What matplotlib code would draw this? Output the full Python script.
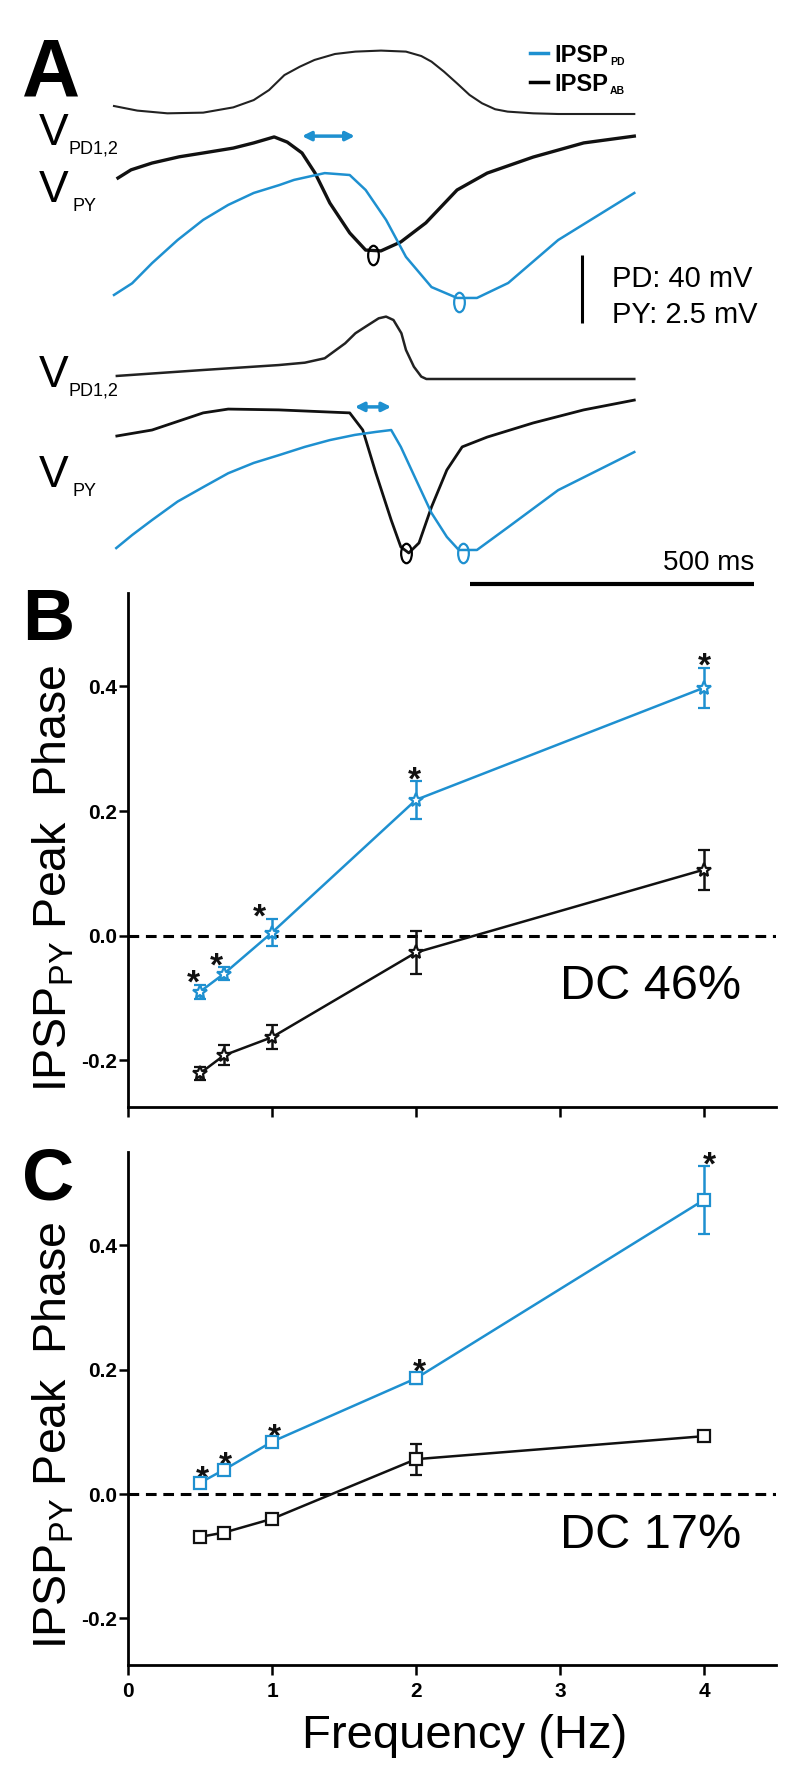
import matplotlib
matplotlib.use('Agg')
import matplotlib.pyplot as plt
from matplotlib.markers import MarkerStyle
from matplotlib.transforms import Affine2D
from matplotlib.lines import Line2D

plt.rcParams['font.family'] = ['Liberation Sans', 'DejaVu Sans']
plt.rcParams['mathtext.fontset'] = 'custom'
plt.rcParams['mathtext.rm'] = 'Liberation Sans'
plt.rcParams['mathtext.it'] = 'Liberation Sans:italic'
plt.rcParams['mathtext.bf'] = 'Liberation Sans:bold'

BLUE = '#1E90D0'
W, H = 792, 1784

# ---------------- data: panels B / C ----------------
freq = [0.5, 0.667, 1, 2, 4]
b_pd = [-0.090, -0.061, 0.005, 0.218, 0.398]
b_pd_err = [0.011, 0.010, 0.022, 0.030, 0.032]
b_ab = [-0.221, -0.192, -0.163, -0.027, 0.106]
b_ab_err = [0.010, 0.016, 0.019, 0.035, 0.032]
c_pd = [0.018, 0.039, 0.084, 0.186, 0.473]
c_pd_err = [0.006, 0.006, 0.006, 0.009, 0.055]
c_ab = [-0.069, -0.062, -0.040, 0.056, 0.093]
c_ab_err = [0.004, 0.005, 0.005, 0.025, 0.005]
b_sig = [True, True, True, True, True]
c_sig = [True, True, True, True, True]
yticks = [-0.2, 0.0, 0.2, 0.4]
ytick_labels = ['-0.2', '0.0', '0.2', '0.4']
xticks = [0, 1, 2, 3, 4]
xtick_labels = ['0', '1', '2', '3', '4']
b_note = 'DC 46%'
c_note = 'DC 17%'

# ---------------- data: panel A traces (time ms, mV) ----------------
pd1_t = [0, 41, 94, 157, 210, 246, 273, 300, 327, 353, 389, 425, 470, 514, 541, 559, 581,
         604, 626, 648, 671, 693, 738, 782, 916]
pd1_v = [4.7, 2.0, 0.4, 0.8, 3.9, 8.2, 14.1, 22.9, 27.8, 31.8, 35.3, 36.7, 37.3, 36.7, 34.1,
         30.8, 24.9, 18.0, 11.2, 6.3, 2.8, 1.4, 0.4, 0.0, 0.0]
py1_ab_t = [7, 30, 67, 115, 157, 210, 246, 282, 305, 331, 354, 380, 415, 443, 470, 505, 549,
            604, 657, 738, 827, 916]
py1_ab_v = [0.0, 0.3, 0.55, 0.78, 0.92, 1.1, 1.29, 1.51, 1.32, 0.92, 0.18, -0.92, -2.02, -2.65,
            -2.68, -2.35, -1.65, -0.44, 0.18, 0.77, 1.29, 1.54]
py1_pd_t = [0, 32, 67, 112, 157, 201, 246, 291, 317, 371, 415, 443, 479, 514, 559, 604, 639,
            694, 782, 916]
py1_pd_v = [-4.30, -3.87, -3.13, -2.28, -1.54, -0.99, -0.55, -0.26, -0.07, 0.18, 0.11, -0.44,
            -1.54, -2.90, -4.01, -4.41, -4.41, -3.86, -2.28, -0.55]
pd2_t = [5, 157, 290, 336, 371, 407, 425, 443, 466, 479, 492, 506, 514, 528, 541, 550, 916]
pd2_v = [1.8, 5.3, 8.2, 9.6, 12.2, 21.0, 26.9, 30.8, 35.7, 36.7, 34.7, 26.9, 17.1, 7.2, 1.4,
         0.0, 0.0]
py2_ab_t = [5, 67, 157, 201, 290, 380, 415, 438, 461, 488, 505, 519, 537, 559, 586, 613, 657,
            738, 827, 916]
py2_ab_v = [0.0, 0.22, 0.85, 0.99, 0.96, 0.88, 0.85, 0.22, -1.36, -3.09, -4.08, -4.30, -3.93,
            -2.61, -1.25, -0.40, -0.04, 0.48, 0.96, 1.32]
py2_pd_t = [4, 32, 67, 112, 157, 201, 246, 291, 336, 380, 424, 461, 488, 505, 532, 559, 586,
            607, 639, 694, 782, 916]
py2_pd_v = [-4.12, -3.64, -3.09, -2.41, -1.88, -1.37, -0.99, -0.70, -0.40, -0.15, 0.04, 0.15,
            0.22, -0.40, -1.62, -2.83, -3.71, -4.19, -4.19, -3.35, -1.99, -0.59]
# trough markers (ms, mV)
trough1_ab = (456, -2.83)
trough1_pd = (607, -4.56)
trough2_ab = (514, -4.30)
trough2_pd = (614, -4.30)
# phase-shift arrows (ms start, ms end, mV level)
arrow1 = (331, 424, 1.54)
arrow2 = (424, 488, 1.07)
scale_time_ms = 500
scale_py_mv = 2.5
scale_pd_mv = 40

# ---------------- layout helpers ----------------
def fx(px):
    return px / W

def fy(py):
    return 1 - py / H

fig = plt.figure(figsize=(W / 100, H / 100), dpi=100)
fig.patch.set_facecolor('white')

# ---------------- panel A ----------------
PX_PER_MS = 0.568
PX_PER_MV = 27.2
T0_PX = 114
A_BOTTOM_PX = 600
axA = fig.add_axes([0, fy(A_BOTTOM_PX), 1, A_BOTTOM_PX / H])
axA.set_xlim(-T0_PX / PX_PER_MS, (W - T0_PX) / PX_PER_MS)
axA.set_ylim(0, A_BOTTOM_PX / PX_PER_MV)
axA.axis('off')

def row(px):
    return (A_BOTTOM_PX - px) / PX_PER_MV

off_pd1, off_py1, off_pd2, off_py2 = row(114), row(178), row(379), row(436)
pd_k = scale_py_mv / scale_pd_mv

axA.plot(pd1_t, [off_pd1 + v * pd_k for v in pd1_v], color='#222222', lw=1.5)
axA.plot(py1_ab_t, [off_py1 + v for v in py1_ab_v], color='#111111', lw=2.4)
axA.plot(py1_pd_t, [off_py1 + v for v in py1_pd_v], color=BLUE, lw=1.8)
axA.plot(pd2_t, [off_pd2 + v * pd_k for v in pd2_v], color='#222222', lw=1.8)
axA.plot(py2_ab_t, [off_py2 + v for v in py2_ab_v], color='#111111', lw=2.0)
axA.plot(py2_pd_t, [off_py2 + v for v in py2_pd_v], color=BLUE, lw=1.8)

ell = MarkerStyle('o', transform=Affine2D().scale(0.55, 1.0))
for (t, v), off, c in [(trough1_ab, off_py1, 'k'), (trough1_pd, off_py1, BLUE),
                       (trough2_ab, off_py2, 'k'), (trough2_pd, off_py2, BLUE)]:
    axA.plot([t], [off + v], marker=ell, ms=14, mfc='none', mec=c, mew=1.6, ls='none')

for (t1, t2, v), off in [(arrow1, off_py1), (arrow2, off_py2)]:
    axA.annotate('', xy=(t2, off + v), xytext=(t1, off + v),
                 arrowprops=dict(arrowstyle='<|-|>', color=BLUE, lw=2.5,
                                 mutation_scale=13, shrinkA=0, shrinkB=0))

# scale bars
sb_t = (582 - T0_PX) / PX_PER_MS
sb_v0 = row(323)
axA.plot([sb_t, sb_t], [sb_v0, sb_v0 + scale_py_mv], color='k', lw=2.2, solid_capstyle='butt')
tb_end = (754 - T0_PX) / PX_PER_MS
tb_v = row(584)
axA.plot([tb_end - scale_time_ms, tb_end], [tb_v, tb_v], color='k', lw=3, solid_capstyle='butt')
axA.text(tb_end, row(570), '%d ms' % scale_time_ms, fontsize=20, ha='right', va='baseline')
fig.text(fx(612), fy(287), 'PD: %d mV' % scale_pd_mv, fontsize=21, va='baseline')
fig.text(fx(612), fy(323), 'PY: %.1f mV' % scale_py_mv, fontsize=21, va='baseline')

# legend
for ypx, c, sub in [(53, BLUE, 'PD'), (82, 'k', 'AB')]:
    fig.add_artist(Line2D([fx(530), fx(548)], [fy(ypx), fy(ypx)], transform=fig.transFigure,
                          color=c, lw=2.5))
    fig.text(fx(554), fy(ypx + 9), 'IPSP', fontsize=17, weight='bold', va='baseline')
    fig.text(fx(610), fy(ypx + 12), sub, fontsize=7.5, weight='bold', va='baseline')

# trace labels
for base, sub, subx in [(145, 'PD1,2', 68), (202, 'PY', 72), (387, 'PD1,2', 68), (487, 'PY', 72)]:
    fig.text(fx(39), fy(base), 'V', fontsize=32, va='baseline')
    fig.text(fx(subx), fy(base + 9), sub, fontsize=13, va='baseline')

# panel letters
fig.text(fx(22), fy(95), 'A', fontsize=58, weight='bold', va='baseline')
fig.text(fx(22), fy(640), 'B', fontsize=52, weight='bold', va='baseline')
fig.text(fx(22), fy(1200), 'C', fontsize=52, weight='bold', va='baseline')

# ---------------- panels B and C ----------------
tickfont = dict(family=['Liberation Sans Narrow', 'Liberation Sans'], weight='bold', size=15)

def panel(top_px, bot_px, pd, pd_err, ab, ab_err, marker, msize, sig, ast_dx, ast_dy,
          note, note_base_px, show_xlabels):
    ax = fig.add_axes([fx(128), fy(bot_px), fx(776) - fx(128), (bot_px - top_px) / H])
    ax.set_xlim(0, 4.5)
    ax.set_ylim(-0.275, 0.55)
    for s in ['top', 'right']:
        ax.spines[s].set_visible(False)
    for s in ['left', 'bottom']:
        ax.spines[s].set_linewidth(2)
    ax.axhline(0, color='k', lw=2.2, ls=(0, (3.5, 2.2)), zorder=1)
    ax.errorbar(freq, ab, yerr=ab_err, color='#111111', lw=1.8, elinewidth=1.8, capsize=4,
                capthick=1.8, marker=marker, ms=msize, mfc='white', mec='#111111', mew=1.6,
                zorder=3)
    ax.errorbar(freq, pd, yerr=pd_err, color=BLUE, lw=1.8, elinewidth=1.8, capsize=4,
                capthick=1.8, marker=marker, ms=msize, mfc='white', mec=BLUE, mew=1.6, zorder=4)
    for f, v, e, s, dx in zip(freq, pd, pd_err, sig, ast_dx):
        if s:
            ax.annotate('*', xy=(f, v + e), xytext=(dx, ast_dy), textcoords='offset pixels',
                        ha='center', va='baseline', fontsize=24, weight='bold', color='#111111')
    ax.set_yticks(yticks)
    ax.set_yticklabels(ytick_labels, fontdict=tickfont)
    ax.set_xticks(xticks)
    if show_xlabels:
        ax.set_xticklabels(xtick_labels, fontdict=tickfont)
    else:
        ax.set_xticklabels([])
    ax.tick_params(axis='y', length=6.5, width=1.8, pad=1.5)
    ax.tick_params(axis='x', length=7, width=1.8, pad=5)
    fig.text(fx(741), fy(note_base_px), note, fontsize=35, ha='right', va='baseline')
    return ax

axB = panel(593, 1107, b_pd, b_pd_err, b_ab, b_ab_err, '*', 10, b_sig,
            [-7, -8, -13, -2, 0], -8, b_note, 999, False)
axC = panel(1152, 1665, c_pd, c_pd_err, c_ab, c_ab_err, 's', 8, c_sig,
            [2, 1, 2, 3, 5], -9, c_note, 1548, True)

ylab = r'IPSP$_{\mathregular{PY}}$ Peak  Phase'
fig.text(fx(54), fy(878), ylab, rotation=90, ha='center', va='center', fontsize=33.5)
fig.text(fx(54), fy(1435), ylab, rotation=90, ha='center', va='center', fontsize=33.5)
fig.text(fx(465), fy(1748), 'Frequency (Hz)', fontsize=34, ha='center', va='baseline')

fig.savefig('out.png', dpi=100, facecolor='white')
